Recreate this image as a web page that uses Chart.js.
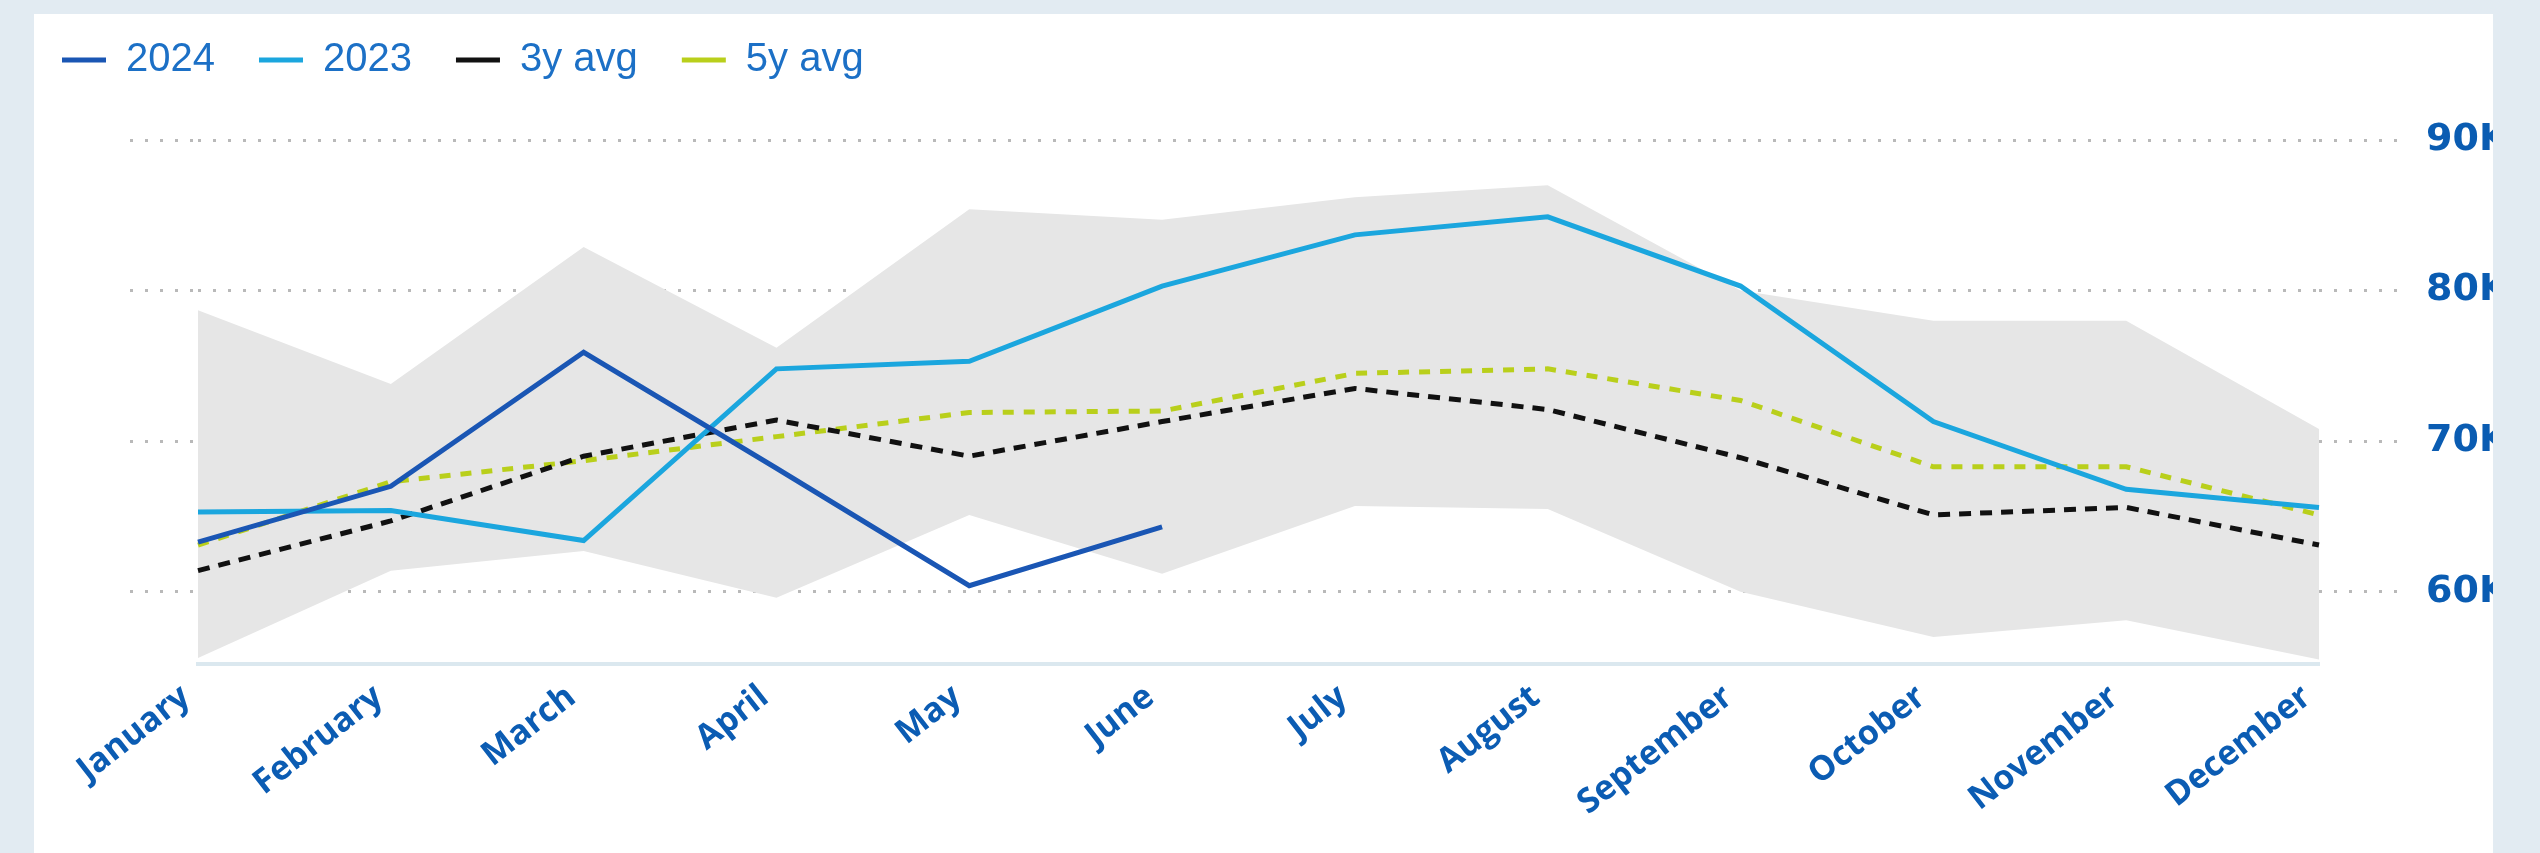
<!DOCTYPE html>
<html>
<head>
<meta charset="utf-8">
<title>Monthly volume</title>
<script src="https://cdn.jsdelivr.net/npm/chart.js@4.4.1/dist/chart.umd.min.js"></script>
<style>
    html, body {
        margin: 0;
        padding: 0;
        width: 2540px;
        height: 853px;
        background: #e2ebf2;
        overflow: hidden;
    }
    .panel {
        position: absolute;
        left: 34px;
        top: 14px;
        width: 2459px;
        height: 839px;
        background: #ffffff;
    }
</style>
</head>
<body>
<div class="panel"><canvas id="volume"></canvas></div>
<script>
    'use strict';

    // values
    let months = ['January', 'February', 'March', 'April', 'May', 'June',
        'July', 'August', 'September', 'October', 'November', 'December'];

    let y2024 = [63300, 67000, 75900, 68200, 60400, 64300];
    let y2023 = [65300, 65400, 63400, 74800, 75300, 80300, 83700, 84900, 80300, 71300, 66800, 65600];
    let avg3y = [61400, 64700, 69000, 71400, 69000, 71300, 73500, 72100, 68900, 65100, 65600, 63100];
    let avg5y = [63100, 67300, 68700, 70300, 71900, 72000, 74500, 74800, 72700, 68300, 68300, 65100];
    let rangeMax = [78700, 73800, 82900, 76200, 85400, 84700, 86200, 87000, 80000, 78000, 78000, 70800];
    let rangeMin = [55600, 61400, 62700, 59600, 65100, 61200, 65700, 65500, 60000, 57000, 58100, 55500];

    let yTicks = [60000, 70000, 80000, 90000];
    let yMin = 55200;
    let yMax = 90000;

    (function (window, document) {

        let gridColor = '#b9b9b9';
        let dots = [3, 12];

        let line = function (label, data, color, dash) {
            return {
                label: label,
                data: data,
                borderColor: color,
                backgroundColor: color,
                borderWidth: 5,
                borderDash: dash || [],
                pointRadius: 0,
                tension: 0,
                fill: false
            };
        };

        let setTicks = function (axis) {
            axis.ticks = yTicks.map(function (v) { return { value: v }; });
        };

        // more room between the legend and the plot
        let legendGap = {
            id: 'legendGap',
            beforeInit: function (chart) {
                let fit = chart.legend.fit;
                chart.legend.fit = function () {
                    fit.call(this);
                    this.height += 50;
                };
            }
        };

        let legendLabels = function (chart) {
            let items = Chart.defaults.plugins.legend.labels.generateLabels(chart);
            return items.map(function (item) {
                item.fillStyle = item.strokeStyle;
                item.lineWidth = 0;
                item.lineDash = [];
                return item;
            });
        };

        let datasets = [
            line('2024', y2024, '#1a56b4'),
            line('2023', y2023, '#1ba6de'),
            line('3y avg', avg3y, '#111111', [12, 9]),
            line('5y avg', avg5y, '#b9cf1b', [11, 10]),
            {
                label: 'max',
                data: rangeMax,
                borderWidth: 0,
                pointRadius: 0,
                backgroundColor: '#e6e6e6',
                fill: '+1'
            },
            {
                label: 'min',
                data: rangeMin,
                borderWidth: 0,
                pointRadius: 0,
                fill: false
            }
        ];

        new Chart(document.getElementById('volume'), {
            type: 'line',
            data: {
                labels: months,
                datasets: datasets
            },
            plugins: [legendGap],
            options: {
                responsive: true,
                maintainAspectRatio: false,
                animation: false,
                layout: {
                    padding: { top: -18, left: -16, right: 0, bottom: 0 }
                },
                plugins: {
                    tooltip: { enabled: false },
                    legend: {
                        position: 'top',
                        align: 'start',
                        labels: {
                            boxWidth: 44,
                            boxHeight: 5,
                            padding: 44,
                            color: '#1c70c6',
                            font: {
                                family: "'Liberation Sans', Arial, sans-serif",
                                size: 40
                            },
                            filter: function (item) { return item.datasetIndex < 4; },
                            generateLabels: legendLabels
                        }
                    }
                },
                scales: {
                    x: {
                        type: 'category',
                        offset: false,
                        grid: { display: false, drawTicks: false },
                        border: { display: true, color: '#dbe8ef', width: 4 },
                        ticks: {
                            autoSkip: false,
                            minRotation: 38,
                            maxRotation: 38,
                            padding: 13,
                            labelOffset: -12,
                            color: '#0b5cb3',
                            font: { family: "'Open Sans', sans-serif", weight: 'bold', size: 34 }
                        },
                        afterFit: function (axis) { axis.height = 189; }
                    },
                    y: {
                        type: 'linear',
                        position: 'right',
                        min: yMin,
                        max: yMax,
                        afterBuildTicks: setTicks,
                        grid: {
                            color: gridColor,
                            lineWidth: 3,
                            drawTicks: true,
                            tickLength: 78,
                            tickColor: gridColor,
                            tickWidth: 3,
                            tickBorderDash: dots
                        },
                        border: { display: false, dash: dots },
                        ticks: {
                            padding: 29,
                            color: '#0a5cb2',
                            font: { family: "'DejaVu Sans', sans-serif", weight: 'bold', size: 38 },
                            callback: function (v) { return (v / 1000) + 'K'; }
                        },
                        afterFit: function (axis) { axis.width = 174; }
                    },
                    yLeft: {
                        type: 'linear',
                        position: 'left',
                        min: yMin,
                        max: yMax,
                        afterBuildTicks: setTicks,
                        grid: {
                            drawOnChartArea: false,
                            drawTicks: true,
                            tickLength: 68,
                            tickColor: gridColor,
                            tickWidth: 3,
                            tickBorderDash: dots
                        },
                        border: { display: false },
                        ticks: { display: false },
                        afterFit: function (axis) { axis.width = 180; }
                    }
                }
            }
        });

    })(window, document);
</script>
</body>
</html>
